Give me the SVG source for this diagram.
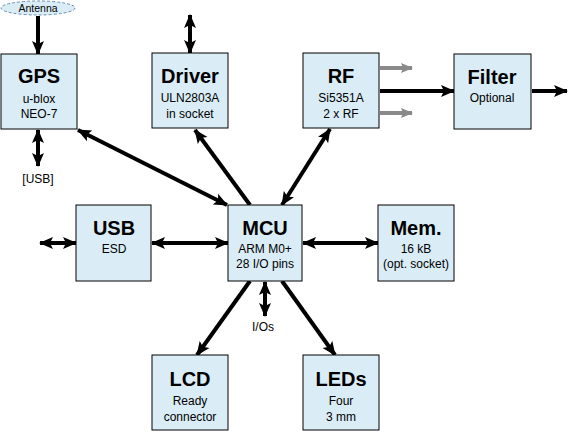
<svg xmlns="http://www.w3.org/2000/svg" width="571" height="433" viewBox="0 0 571 433">
<style>
.box{fill:#DAEDF7;stroke:#000;stroke-width:1}
.t{font-family:"Liberation Sans",Arial,sans-serif;font-weight:bold;font-size:20px;text-anchor:middle;fill:#000}
.s{font-family:"Liberation Sans",Arial,sans-serif;font-size:12px;text-anchor:middle;fill:#000}
.c{stroke:#000;stroke-width:4;fill:none}
.g{stroke:#8a8a8a;stroke-width:4;fill:none}
</style>
<defs>
<marker id="ae" markerUnits="userSpaceOnUse" markerWidth="14" markerHeight="14" viewBox="0 0 14 14" refX="13" refY="7" orient="auto"><path d="M0,1 L14,7 L0,13 L3,7 Z" fill="#000"/></marker>
<marker id="as" markerUnits="userSpaceOnUse" markerWidth="14" markerHeight="14" viewBox="0 0 14 14" refX="1" refY="7" orient="auto"><path d="M14,1 L0,7 L14,13 L11,7 Z" fill="#000"/></marker>
<marker id="ag" markerUnits="userSpaceOnUse" markerWidth="12" markerHeight="12" viewBox="0 0 12 12" refX="11" refY="6" orient="auto"><path d="M0,1 L12,6 L0,11 L2,6 Z" fill="#8a8a8a"/></marker>
</defs>
<g id="connectors">
<line class="c" x1="38" y1="16" x2="38" y2="54" marker-end="url(#ae)"/>
<line class="c" x1="38" y1="130" x2="38" y2="166" marker-start="url(#as)" marker-end="url(#ae)"/>
<line class="c" x1="190" y1="15" x2="190" y2="53" marker-start="url(#as)" marker-end="url(#ae)"/>
<line class="g" x1="380" y1="68" x2="412" y2="68" marker-end="url(#ag)"/>
<line class="g" x1="380" y1="113" x2="412" y2="113" marker-end="url(#ag)"/>
<line class="c" x1="380" y1="91" x2="454" y2="91" marker-end="url(#ae)"/>
<line class="c" x1="532" y1="91" x2="567" y2="91" marker-end="url(#ae)"/>
<line class="c" x1="78" y1="130" x2="227" y2="205" marker-start="url(#as)" marker-end="url(#ae)"/>
<line class="c" x1="250" y1="205" x2="195" y2="130" marker-end="url(#ae)"/>
<line class="c" x1="330" y1="129" x2="282" y2="205" marker-start="url(#as)" marker-end="url(#ae)"/>
<line class="c" x1="40" y1="243" x2="76" y2="243" marker-start="url(#as)" marker-end="url(#ae)"/>
<line class="c" x1="152" y1="243" x2="228" y2="243" marker-start="url(#as)" marker-end="url(#ae)"/>
<line class="c" x1="303" y1="243" x2="378" y2="243" marker-start="url(#as)" marker-end="url(#ae)"/>
<line class="c" x1="265" y1="282" x2="265" y2="316" marker-start="url(#as)" marker-end="url(#ae)"/>
<line class="c" x1="250" y1="281" x2="197" y2="355" marker-end="url(#ae)"/>
<line class="c" x1="282" y1="281" x2="335" y2="355" marker-end="url(#ae)"/>
</g>
<g id="antenna">
<ellipse cx="38" cy="8" rx="37" ry="7" fill="#DAEDF7" stroke="#6a8fb0" stroke-width="1" stroke-dasharray="3,2"/>
<text class="s" x="38" y="12" style="font-size:10.5px">Antenna</text>
</g>
<g id="gps"><rect class="box" x="1" y="54" width="76" height="75"/><text class="t" x="39" y="83">GPS</text><text class="s" x="39" y="103">u-blox</text><text class="s" x="39" y="118">NEO-7</text></g>
<text class="s" x="38" y="183">[USB]</text>
<g id="driver"><rect class="box" x="152" y="53" width="76" height="75"/><text class="t" x="190" y="83">Driver</text><text class="s" x="190" y="102">ULN2803A</text><text class="s" x="190" y="118">in socket</text></g>
<g id="rf"><rect class="box" x="303" y="53" width="76" height="75"/><text class="t" x="341" y="83">RF</text><text class="s" x="341" y="102">Si5351A</text><text class="s" x="341" y="118">2 x RF</text></g>
<g id="filter"><rect class="box" x="454" y="54" width="77" height="75"/><text class="t" x="492" y="84">Filter</text><text class="s" x="492" y="102">Optional</text></g>
<g id="usb"><rect class="box" x="76" y="205" width="75" height="76"/><text class="t" x="114" y="235">USB</text><text class="s" x="114" y="253">ESD</text></g>
<g id="mcu"><rect class="box" x="228" y="205" width="74" height="76"/><text class="t" x="265" y="235">MCU</text><text class="s" x="265" y="253">ARM M0+</text><text class="s" x="265" y="268">28 I/O pins</text></g>
<g id="mem"><rect class="box" x="378" y="205" width="76" height="76"/><text class="t" x="416" y="235">Mem.</text><text class="s" x="416" y="253">16 kB</text><text class="s" x="416" y="268">(opt. socket)</text></g>
<text class="s" x="263" y="331">I/Os</text>
<g id="lcd"><rect class="box" x="152" y="355" width="76" height="75"/><text class="t" x="190" y="386">LCD</text><text class="s" x="190" y="405">Ready</text><text class="s" x="190" y="421">connector</text></g>
<g id="leds"><rect class="box" x="303" y="355" width="76" height="75"/><text class="t" x="341" y="386">LEDs</text><text class="s" x="341" y="405">Four</text><text class="s" x="341" y="421">3 mm</text></g>
</svg>
